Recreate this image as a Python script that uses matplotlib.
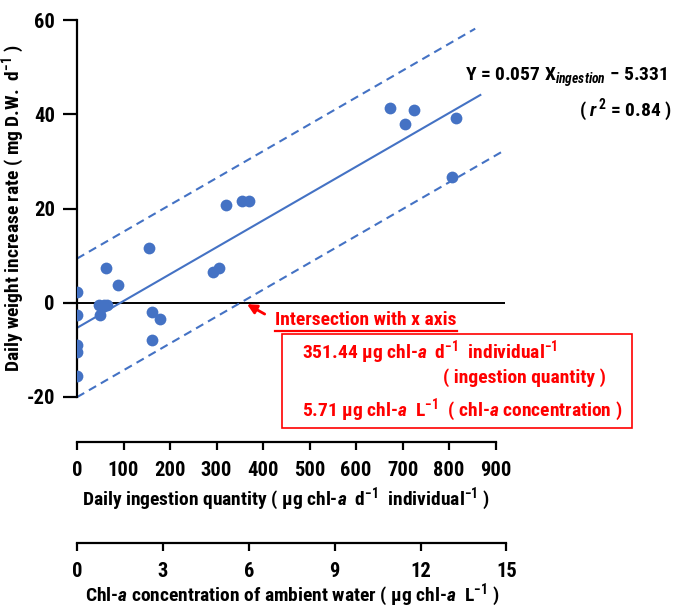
import numpy as np
import matplotlib
matplotlib.use("Agg")
import matplotlib.pyplot as plt
import matplotlib.font_manager as fm
from matplotlib.patches import Rectangle
from matplotlib.lines import Line2D

# ---------------- data ----------------
ingestion = [0, 0, 0, 0, 0,
             48, 57, 65, 50,
             62, 88, 154, 161, 178, 161,
             293, 306, 321, 354, 369,
             672, 706, 725, 806, 814]
weight_gain = [2.3, -2.6, -9.0, -10.4, -15.6,
               -0.5, -0.5, -0.5, -2.6,
               7.3, 3.7, 11.6, -2.0, -3.4, -7.8,
               6.6, 7.3, 20.8, 21.5, 21.5,
               41.4, 37.9, 40.8, 26.6, 39.2]

slope = 0.057
intercept = -5.331
band = 14.7                      # half-width of the dashed prediction band
fit_xmax, upper_xmax, lower_xmax = 867, 856, 913
x_intersect = 351.44             # lower band crosses y = 0
chl_per_ingestion = 5.71 / 351.44

ingestion_ticks = list(range(0, 901, 100))
chl_ticks = [0, 3, 6, 9, 12, 15]
weight_ticks = [-20, 0, 20, 40, 60]

BLUE = "#4472C4"
RED = "#FF0000"

ING_LABEL = r"Daily ingestion quantity ( μg chl-$\mathit{a}$  d$^{-1}$  individual$^{-1}$ )"
CHL_LABEL = r"Chl-$\mathit{a}$ concentration of ambient water ( μg chl-$\mathit{a}$  L$^{-1}$ )"

# pick a narrow bold sans (Arial Narrow look)
avail = {}
for f in fm.fontManager.ttflist:
    try:
        w = int(f.weight)
    except (TypeError, ValueError):
        w = 700 if "bold" in str(f.weight) else 400
    avail.setdefault(f.name, set()).add((w, f.style))


def has(fam, style):
    return any(w >= 600 and s == style for w, s in avail.get(fam, set()))


candidates = ["Liberation Sans Narrow", "Arial Narrow", "Roboto Condensed",
              "Archivo Narrow", "Fira Sans Condensed", "IBM Plex Sans Condensed",
              "Asap Condensed", "Encode Sans Condensed", "PT Sans Narrow"]
fam = None
for c in candidates:
    if has(c, "normal") and has(c, "italic"):
        fam = c
        break
if fam is None:
    fam = next((c for c in candidates if has(c, "normal")), "Liberation Sans")
it_spec = fam + (":italic:bold" if has(fam, "italic") else ":italic")

plt.rcParams["font.family"] = [fam, "Liberation Sans", "DejaVu Sans"]
plt.rcParams["font.weight"] = "bold"
plt.rcParams["axes.labelweight"] = "bold"
plt.rcParams["mathtext.fontset"] = "custom"
plt.rcParams["mathtext.rm"] = fam + ":bold"
plt.rcParams["mathtext.it"] = it_spec
plt.rcParams["mathtext.bf"] = fam + ":bold"
plt.rcParams["axes.unicode_minus"] = False

W, H = 685, 610
fig = plt.figure(figsize=(W / 100, H / 100), dpi=100)

# size the text so the ingestion label is as wide as in the chart (~408 px)
probe = fig.text(0, 0, ING_LABEL, fontsize=13.5)
wpx = probe.get_window_extent(renderer=fig.canvas.get_renderer()).width
probe.remove()
k = 408 / wpx
LAB = 13.5 * k
TICK = 14.2 * k

px_per_ing = 0.4652
left = 77 / W

# ---------------- main scatter axes ----------------
ax = fig.add_axes([left, (H - 397) / H, 920 * px_per_ing / W, 377 / H])
ax.set_xlim(0, 920)
ax.set_ylim(-20, 60)
for s in ("top", "right", "bottom"):
    ax.spines[s].set_visible(False)
ax.spines["left"].set_linewidth(1.6)
ax.set_xticks([])
ax.set_yticks(weight_ticks)
ax.tick_params(axis="y", length=10, width=1.6, pad=6, labelsize=TICK)
ax.axhline(0, color="black", lw=1.4, zorder=1)

ax.scatter(ingestion, weight_gain, s=72, color=BLUE, zorder=3, linewidths=0)

xf = np.array([0, fit_xmax])
ax.plot(xf, slope * xf + intercept, color=BLUE, lw=1.5, zorder=2)
xu = np.array([0, upper_xmax])
ax.plot(xu, slope * xu + intercept + band, color=BLUE, lw=1.5,
        dashes=(4, 2.6), zorder=2)
xl = np.array([0, lower_xmax])
ax.plot(xl, slope * xl + intercept - band, color=BLUE, lw=1.5,
        dashes=(4, 2.6), zorder=2, clip_on=False)

fig.text(13 / W, 1 - 208 / H,
         r"Daily weight increase rate ( mg D.W.  d$^{-1}$ )",
         rotation=90, ha="center", va="center", fontsize=LAB)

# equation
fig.text(668 / W, 1 - 77 / H,
         r"Y = 0.057 X$_{\mathit{ingestion}}$ $-$ 5.331",
         ha="right", va="center", fontsize=LAB)
fig.text(672 / W, 1 - 110 / H, r"( $\mathit{r}^{\,2}$ = 0.84 )",
         ha="right", va="center", fontsize=LAB)

# intersection annotation
ax.annotate("", xy=(x_intersect + 14, -0.3), xytext=(x_intersect + 52, -2.4),
            arrowprops=dict(arrowstyle="-|>", color=RED, lw=2,
                            mutation_scale=14, shrinkA=0, shrinkB=0),
            annotation_clip=False)
fig.text(275 / W, 1 - 320 / H, "Intersection with x axis", color=RED,
         ha="left", va="center", fontsize=LAB)
fig.add_artist(Line2D([275 / W, 457 / W], [1 - 331 / H, 1 - 331 / H],
                      color=RED, lw=1.6, transform=fig.transFigure))
fig.add_artist(Rectangle((282 / W, 1 - 428 / H), 350 / W, 94 / H,
                         fill=False, edgecolor=RED, lw=1.2,
                         transform=fig.transFigure))
fig.text(302 / W, 1 - 352 / H,
         r"351.44 μg chl-$\mathit{a}$  d$^{-1}$  individual$^{-1}$",
         color=RED, ha="left", va="center", fontsize=LAB)
fig.text(443 / W, 1 - 378 / H, "( ingestion quantity )",
         color=RED, ha="left", va="center", fontsize=LAB)
fig.text(302 / W, 1 - 410 / H,
         r"5.71 μg chl-$\mathit{a}$  L$^{-1}$  ( chl-$\mathit{a}$ concentration )",
         color=RED, ha="left", va="center", fontsize=LAB)


def bottom_scale(ypix, width_px, lim, ticks, label, labelpad):
    a = fig.add_axes([left, (H - ypix) / H, width_px / W, 0.0001])
    a.set_xlim(*lim)
    a.set_yticks([])
    for s in ("top", "right", "left"):
        a.spines[s].set_visible(False)
    a.spines["bottom"].set_linewidth(1.6)
    a.set_xticks(ticks)
    a.set_xticklabels([str(t) for t in ticks])
    a.tick_params(axis="x", direction="out", length=6, width=1.6,
                  pad=8, labelsize=TICK)
    a.set_xlabel(label, fontsize=LAB, labelpad=labelpad)
    a.patch.set_visible(False)
    return a


bottom_scale(442, 900 * px_per_ing, (0, 900), ingestion_ticks, ING_LABEL, 4)
chl_max = chl_ticks[-1]
bottom_scale(543, chl_max / chl_per_ingestion * px_per_ing, (0, chl_max),
             chl_ticks, CHL_LABEL, 0)

fig.savefig("out.png", dpi=100)
